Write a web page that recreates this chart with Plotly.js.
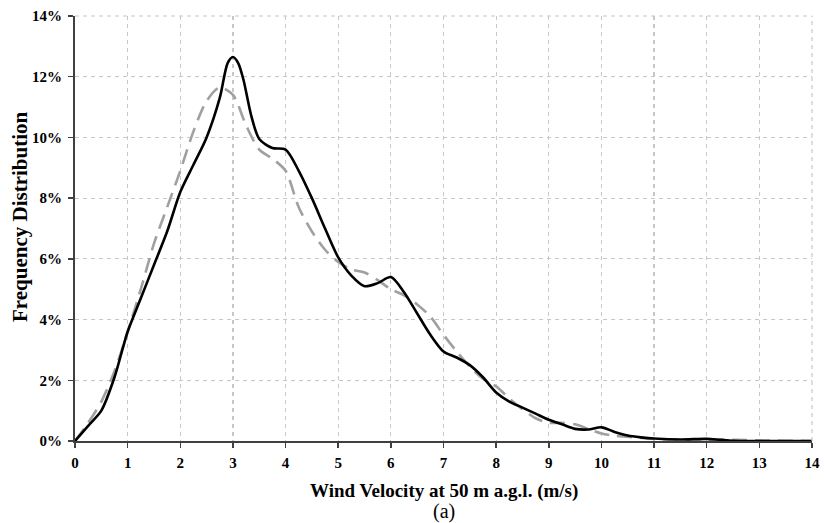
<!DOCTYPE html>
<html>
<head>
<meta charset="utf-8">
<script src="https://cdn.plot.ly/plotly-3.0.1.min.js"></script>
<style>html,body{margin:0;padding:0;background:#fff;}#chart{width:824px;height:523px;}</style>
</head>
<body>
<div id="chart"></div>
<script>
// Wind velocity (m/s)
const velocityA = [0,0.25,0.5,0.75,1,1.25,1.5,1.75,2,2.25,2.5,2.75,2.9,3,3.1,3.2,3.35,3.5,3.75,4,4.25,4.5,4.75,5,5.25,5.5,5.75,6,6.25,6.5,6.75,7,7.25,7.5,7.75,8,8.25,8.5,8.75,9,9.25,9.5,9.75,10,10.25,10.5,10.75,11,11.5,12,12.25,12.5,13,14];
// Frequency (%) – solid black series
const freqA = [0,0.5,1.0,2.1,3.6,4.7,5.8,6.9,8.2,9.1,10.0,11.3,12.45,12.65,12.45,11.9,10.7,9.95,9.65,9.6,8.9,8.0,7.0,6.05,5.45,5.1,5.2,5.4,4.9,4.2,3.5,2.95,2.75,2.5,2.1,1.6,1.3,1.1,0.9,0.7,0.55,0.4,0.38,0.45,0.3,0.18,0.12,0.08,0.05,0.07,0.04,0.01,0,0];

const velocityB = [0,0.25,0.5,0.75,1,1.25,1.5,1.75,2,2.25,2.5,2.75,3,3.25,3.5,3.75,4,4.25,4.5,4.75,5,5.25,5.5,5.75,6,6.25,6.5,6.75,7,7.25,7.5,7.75,8,8.25,8.5,8.75,9,9.25,9.5,9.75,10,10.25,10.5,10.75,11,11.5,12,12.5,13,13.5,14];
// Frequency (%) – dashed grey series
const freqB = [0,0.6,1.3,2.3,3.6,5.0,6.5,7.7,8.9,10.2,11.2,11.65,11.4,10.4,9.6,9.3,8.9,7.7,6.9,6.3,5.9,5.65,5.55,5.3,5.0,4.8,4.5,4.1,3.5,2.95,2.45,2.05,1.8,1.4,1.05,0.75,0.6,0.6,0.55,0.4,0.25,0.17,0.14,0.1,0.07,0.05,0.05,0.04,0.02,0.01,0];

const xTicks = [0,1,2,3,4,5,6,7,8,9,10,11,12,13,14];
const yTicks = [0,2,4,6,8,10,12,14];
const yTickLabels = yTicks.map(v => v + '%');
const xTitle = 'Wind Velocity at 50 m a.g.l. (m/s)';
const yTitle = 'Frequency Distribution';
const panelLabel = '(a)';

const traces = [
  {x: velocityB, y: freqB.map(v => v/100), type: 'scatter', mode: 'lines',
   line: {color: '#a0a0a0', width: 2.6, dash: '15px,8px', shape: 'spline', smoothing: 0.8},
   hoverinfo: 'skip', showlegend: false},
  {x: velocityA, y: freqA.map(v => v/100), type: 'scatter', mode: 'lines',
   line: {color: '#000000', width: 2.6, shape: 'spline', smoothing: 0.8},
   hoverinfo: 'skip', showlegend: false}
];

const fam = '"Liberation Serif", "Times New Roman", serif';

const axisCommon = {
  showgrid: true, gridcolor: '#c8c8c8', griddash: '4px,4px', gridwidth: 1.2,
  showline: true, linecolor: '#404040', linewidth: 2,
  ticks: 'outside', ticklen: 5, tickcolor: '#404040', tickwidth: 1.5,
  zeroline: false,
  tickfont: {family: fam, size: 15, color: '#000', weight: 'bold'}
};

const layout = {
  width: 824, height: 523,
  margin: {l: 75, r: 12, t: 16, b: 82},
  paper_bgcolor: '#fff', plot_bgcolor: '#fff',
  font: {family: fam, color: '#000'},
  xaxis: Object.assign({}, axisCommon, {
    range: [0, 14], tickvals: xTicks, ticktext: xTicks.map(String), ticklabelstandoff: 2
  }),
  yaxis: Object.assign({}, axisCommon, {
    range: [0, 0.14], tickvals: yTicks.map(v => v/100), ticktext: yTickLabels, ticklabelstandoff: 3
  }),
  shapes: [
    {type: 'line', xref: 'paper', yref: 'paper', x0: 1, x1: 1, y0: 0, y1: 1, line: {color: '#c8c8c8', width: 1.2, dash: '4px,4px'}},
    {type: 'line', xref: 'paper', yref: 'paper', x0: 0, x1: 1, y0: 1, y1: 1, line: {color: '#c8c8c8', width: 1.2, dash: '4px,4px'}}
  ],
  annotations: [
    {text: '<b>' + xTitle + '</b>', xref: 'paper', yref: 'paper', x: 0.5, y: 0, yshift: -50, showarrow: false,
     font: {family: fam, size: 19, color: '#000'}, xanchor: 'center', yanchor: 'middle'},
    {text: '<b>' + yTitle + '</b>', xref: 'paper', yref: 'paper', x: 0, xshift: -55, y: 0.527, showarrow: false,
     textangle: -90, font: {family: fam, size: 21, color: '#000'}, xanchor: 'center', yanchor: 'middle'},
    {text: panelLabel, xref: 'paper', yref: 'paper', x: 0.5, y: 0, yshift: -70, showarrow: false,
     font: {family: fam, size: 20, color: '#000'}, xanchor: 'center', yanchor: 'middle'}
  ]
};

Plotly.newPlot('chart', traces, layout, {displayModeBar: false, staticPlot: true});
</script>
</body>
</html>
